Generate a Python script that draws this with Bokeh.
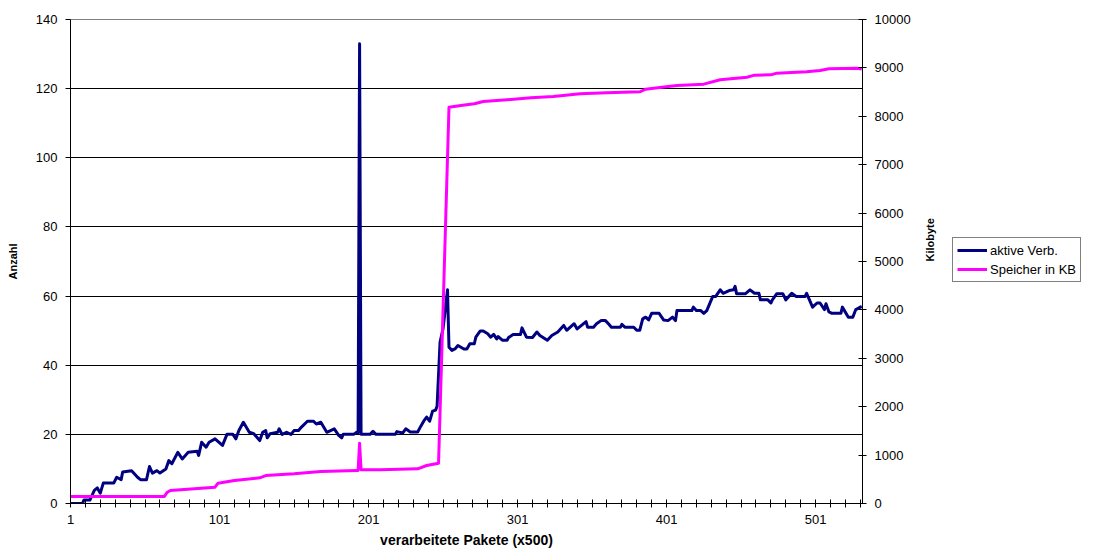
import math
from bokeh.plotting import figure
from bokeh.layouts import row
from bokeh.models import Range1d, LinearAxis, FixedTicker, Legend, LegendItem
from bokeh.embed import file_html
from bokeh.resources import INLINE

# ---- data ----
aktive_x = [1, 9, 10, 14, 17, 19, 21, 23, 30, 32, 35, 36, 42, 46, 48, 52, 54, 56, 59, 61, 65, 67, 69, 73, 76, 80,
            86, 87, 89, 92, 94, 98, 103, 106, 110, 112, 114, 117, 121, 124, 128, 130, 132, 133, 135, 140, 141, 143,
            146, 149, 151, 154, 156, 160, 164, 166, 169, 173, 178, 181, 183, 184, 191, 193, 194, 195, 196, 202, 204,
            206, 219, 220, 224, 226, 229, 234, 236, 238, 240, 242, 244, 246, 247, 249, 251, 254, 255, 257, 259, 261,
            265, 267, 269, 272, 273, 276, 278, 281, 283, 285, 287, 288, 291, 294, 295, 298, 303, 304, 307, 311, 314,
            316, 321, 324, 328, 332, 334, 339, 341, 347, 348, 352, 354, 357, 360, 362, 364, 370, 371, 373, 379, 381,
            383, 385, 387, 389, 391, 396, 399, 402, 405, 407, 408, 418, 419, 421, 424, 426, 428, 432, 434, 437, 439,
            443, 446, 447, 448, 454, 457, 460, 463, 464, 469, 471, 472, 475, 479, 480, 481, 485, 488, 494, 495, 499,
            502, 504, 507, 508, 510, 512, 518, 519, 523, 526, 528, 532]
aktive_y = [0, 0, 1, 1, 3.8, 4.5, 3, 5.9, 5.9, 7.6, 6.9, 9.1, 9.5, 7.6, 6.9, 6.9, 10.7, 8.8, 9.5, 8.8, 10, 12.4, 11.5,
            14.8, 12.9, 14.8, 15.1, 13.9, 17.7, 16.3, 17.7, 18.7, 16.8, 20, 20, 18.7, 21.1, 23.5, 20.6, 20.2, 18.2,
            20.6, 21.1, 19, 20.2, 20.6, 21.6, 20, 20.6, 20, 21.1, 21.1, 22.1, 23.8, 23.8, 23, 23.5, 20.6, 21.6, 19.7,
            19, 20, 20, 20.6, 20.5, 133, 20, 20, 20.9, 20, 20, 20.8, 20.4, 21.6, 20.7, 20.7, 22.3, 23.8, 25, 23.8,
            26.7, 27, 28.1, 46.7, 50.5, 61.8, 45.2, 44.3, 44.7, 45.7, 44.7, 44.7, 46.2, 46.2, 48.1, 49.9, 49.9, 49.1,
            48.1, 48.9, 47.6, 48.3, 47.2, 47.2, 48, 48.9, 48.9, 50.8, 48.1, 48, 49.6, 48.6, 47.2, 48.6, 49.6, 51.5,
            50.1, 52, 50.5, 52.6, 51, 51, 52, 52.9, 52.9, 52, 51, 51, 51.8, 51, 51, 50.1, 50.1, 53.4, 53.9, 53.1, 55,
            55, 53.1, 52.9, 53.9, 52.9, 55.8, 55.8, 56.8, 55.8, 55.8, 55, 55.8, 59.9, 59.9, 61.8, 60.8, 61.6, 61.8,
            62.8, 60.7, 60.7, 61.8, 60.8, 60.8, 58.9, 58.9, 58, 58.9, 60.7, 60.7, 59.9, 58.9, 60.8, 59.9, 59.9, 60.8,
            56.8, 58, 58, 56.1, 57.8, 55.4, 55, 55, 56.8, 53.9, 53.9, 56.1, 57]

speicher_x = [1, 64, 66, 68, 98, 100, 111, 128, 132, 151, 169, 193, 194, 195, 196, 209, 234, 240, 248, 255, 263,
              272, 278, 294, 310, 325, 343, 361, 383, 387, 395, 408, 426, 437, 455, 460, 471, 475, 495, 504, 510,
              529, 532]
speicher_y = [145, 145, 233, 269, 337, 420, 475, 530, 578, 613, 661, 682, 682, 1246, 696, 696, 717, 785, 833, 8188,
              8223, 8258, 8306, 8341, 8382, 8409, 8465, 8485, 8506, 8560, 8588, 8636, 8664, 8754, 8808, 8850, 8857,
              8891, 8919, 8946, 8981, 8994, 8974]

series_names = ["aktive Verb.", "Speicher in KB"]
series_colors = ["#000080", "#FF00FF"]
x_tick_labels = {1: "1", 101: "101", 201: "201", 301: "301", 401: "401", 501: "501"}
left_ticks = [0, 20, 40, 60, 80, 100, 120, 140]
right_ticks = [0, 1000, 2000, 3000, 4000, 5000, 6000, 7000, 8000, 9000, 10000]

FONT = "Liberation Sans"
TICK_SIZE = "13px"

p = figure(width=950, height=553, output_backend="svg", toolbar_location=None,
           x_range=Range1d(1, 532.5), y_range=Range1d(0, 140),
           min_border_left=70, min_border_right=88, min_border_top=19, min_border_bottom=50)
p.background_fill_color = "white"
p.border_fill_color = "white"
p.outline_line_color = "#808080"
p.outline_line_width = 1

p.extra_y_ranges = {"kb": Range1d(0, 10000)}

# grid
p.xgrid.visible = False
p.ygrid.ticker = FixedTicker(ticks=left_ticks)
p.ygrid.grid_line_color = "#000000"
p.ygrid.grid_line_width = 1

# x axis
xa = p.xaxis[0]
xticks = list(range(1, 533, 10))
xa.ticker = FixedTicker(ticks=xticks)
xa.major_label_overrides = {t: x_tick_labels.get(t, "") for t in xticks}
xa.minor_tick_line_color = None
xa.major_tick_in = 4
xa.major_tick_out = 4
xa.axis_line_color = "black"
xa.major_tick_line_color = "black"
xa.major_label_text_font = FONT
xa.major_label_text_font_size = TICK_SIZE
xa.major_label_text_color = "black"
xa.major_label_standoff = 7
xa.axis_label = "verarbeitete Pakete (x500)"
xa.axis_label_text_font = FONT
xa.axis_label_text_font_style = "bold"
xa.axis_label_text_font_size = "14px"
xa.axis_label_text_color = "black"
xa.axis_label_standoff = 5

# left axis
ya = p.yaxis[0]
ya.ticker = FixedTicker(ticks=left_ticks)
ya.minor_tick_line_color = None
ya.major_tick_in = 0
ya.major_tick_out = 5
ya.axis_line_color = "black"
ya.major_tick_line_color = "black"
ya.major_label_text_font = FONT
ya.major_label_text_font_size = TICK_SIZE
ya.major_label_text_color = "black"
ya.major_label_standoff = 8
ya.axis_label = "Anzahl"
ya.axis_label_text_font = FONT
ya.axis_label_text_font_style = "bold"
ya.axis_label_text_font_size = "11px"
ya.axis_label_text_color = "black"
ya.axis_label_standoff = 14

# right axis
ra = LinearAxis(y_range_name="kb", ticker=FixedTicker(ticks=right_ticks))
ra.minor_tick_line_color = None
ra.major_tick_in = 4
ra.major_tick_out = 4
ra.axis_line_color = "black"
ra.major_tick_line_color = "black"
ra.major_label_text_font = FONT
ra.major_label_text_font_size = TICK_SIZE
ra.major_label_text_color = "black"
ra.major_label_standoff = 8
ra.axis_label = "Kilobyte"
ra.axis_label_text_font = FONT
ra.axis_label_text_font_style = "bold"
ra.axis_label_text_font_size = "11px"
ra.axis_label_text_color = "black"
ra.axis_label_standoff = 16
ra.axis_label_orientation = math.pi / 2
p.add_layout(ra, "right")

# lines
p.line(aktive_x, aktive_y, line_color=series_colors[0], line_width=3, line_join="round")
p.line(speicher_x, speicher_y, line_color=series_colors[1], line_width=3, line_join="round", y_range_name="kb")

# legend panel (separate figure to the right of the chart)
lg = figure(width=158, height=553, output_backend="svg", toolbar_location=None,
            x_range=Range1d(-20, -10), y_range=Range1d(-20, -10),
            min_border_left=0, min_border_right=0, min_border_top=0, min_border_bottom=0)
lg.axis.visible = False
lg.grid.visible = False
lg.outline_line_color = None
lg.background_fill_color = "white"
lg.border_fill_color = "white"
d1 = lg.line(aktive_x, aktive_y, line_color=series_colors[0], line_width=3)
d2 = lg.line(speicher_x, speicher_y, line_color=series_colors[1], line_width=3)

legend = Legend(items=[LegendItem(label=series_names[0], renderers=[d1]),
                       LegendItem(label=series_names[1], renderers=[d2])],
                location=(2, 221))
legend.label_text_font = FONT
legend.label_text_font_size = "13px"
legend.label_text_color = "black"
legend.label_height = 16
legend.glyph_width = 30
legend.glyph_height = 16
legend.label_standoff = 3
legend.spacing = 3
legend.padding = 4
legend.margin = 0
legend.border_line_color = "black"
legend.border_line_width = 1
legend.background_fill_alpha = 1
lg.add_layout(legend, "center")

layout = row(p, lg)
layout.spacing = 0

open("out.html", "w").write(file_html(layout, INLINE))
